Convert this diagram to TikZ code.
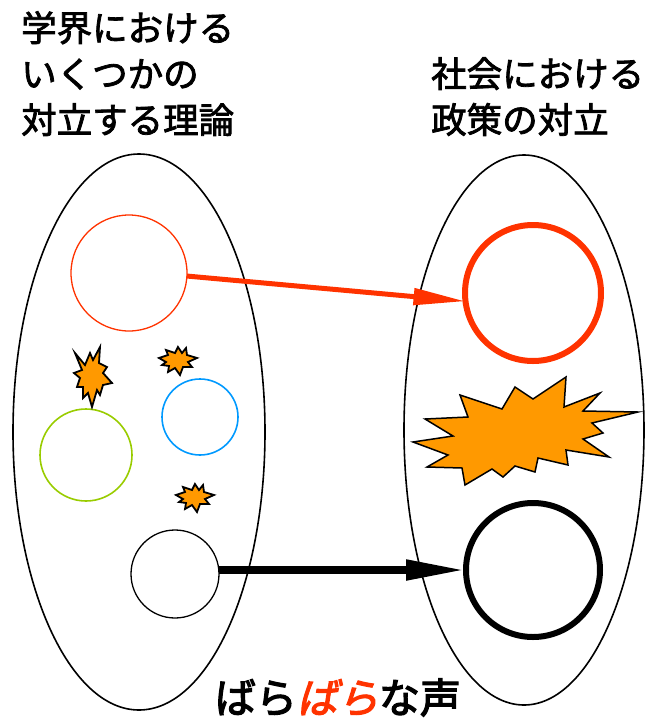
\documentclass[tikz,border=0pt]{standalone}
\usepackage{fontspec}
\usetikzlibrary{shapes.geometric,arrows.meta}
\newfontfamily\jpfont{Noto Sans CJK JP}[FakeBold=2.2]
\newfontfamily\jpbold{Noto Sans CJK JP}[FakeBold=3]
\newfontfamily\jpslant{Noto Sans CJK JP}[FakeBold=3,FakeSlant=0.2]
\definecolor{myred}{HTML}{FF3300}
\definecolor{myorange}{HTML}{FF9900}
\definecolor{myblue}{HTML}{0099FF}
\definecolor{mygreen}{HTML}{99CC00}
\tikzset{
  bigoval/.style={ellipse, draw=black, line width=1.6pt, inner sep=0pt},
  ring/.style={circle, inner sep=0pt, outer sep=0pt},
  burst/.style={fill=myorange, draw=black, line width=1.8pt, line join=miter},
  label/.style={inner sep=0pt, align=left, font=\jpfont\fontsize{35.5}{46}\selectfont},
}
\begin{document}
\begin{tikzpicture}[x=1pt,y=-1pt]
\useasboundingbox (0,0) rectangle (646,721);
% ellipses
\node[bigoval, minimum width=252pt, minimum height=556pt] (L) at (139,432) {};
\node[bigoval, minimum width=240pt, minimum height=550pt] (R) at (524,430) {};
% circles
\node[ring, draw=myred, line width=1.3pt, minimum size=116pt] (r1) at (129,273) {};
\node[ring, draw=myred, line width=6pt, minimum size=136pt] (r2) at (533,293) {};
\node[ring, draw=myblue, line width=1.6pt, minimum size=76pt] (bl) at (200,417) {};
\node[ring, draw=mygreen, line width=1.6pt, minimum size=92pt] (gr) at (86,455) {};
\node[ring, draw=black, line width=1.3pt, minimum size=88pt] (b1) at (175,574) {};
\node[ring, draw=black, line width=6pt, minimum size=134pt] (b2) at (533,570) {};
% arrows
\draw[myred, line width=5pt, -{Triangle[length=52pt,width=16pt]}] (r1.-3) -- (r2.187);
\draw[black, line width=8pt, -{Triangle[length=60pt,width=19pt]}] (b1.east |- b2.west) -- (b2.west);
% bursts
\draw[burst] (75,353) -- (85,365) -- (90,353) -- (93,360) -- (100,347) -- (99,363) -- (107,367) -- (103,373) -- (112,383) -- (103,385) -- (100,395) -- (97,390) -- (92,407) -- (88,393) -- (83,398) -- (83,387) -- (77,387) -- (80,378) -- (74,373) -- (82,370) -- cycle;
\draw[burst] (159,358) -- (168,355) -- (166,350) -- (175,353) -- (178,347) -- (182,353) -- (186,348) -- (187,355) -- (197,358) -- (188,362) -- (192,367) -- (183,367) -- (180,375) -- (175,368) -- (168,372) -- (169,366) -- (162,365) -- (166,362) -- cycle;
\draw[burst, shift={(17,137)}] (159,358) -- (168,355) -- (166,350) -- (175,353) -- (178,347) -- (182,353) -- (186,348) -- (187,355) -- (197,358) -- (188,362) -- (192,367) -- (183,367) -- (180,375) -- (175,368) -- (168,372) -- (169,366) -- (162,365) -- (166,362) -- cycle;
\draw[burst, line width=1.5pt] (413,442) -- (453,436) -- (425,419) -- (468,417) -- (460,395) -- (502,409) -- (515,387) -- (533,399) -- (566,377) -- (564,407) -- (600,393) -- (583,411) -- (638,412) -- (592,423) -- (603,433) -- (583,439) -- (609,457) -- (566,450) -- (568,465) -- (538,458) -- (535,472) -- (515,466) -- (503,477) -- (492,469) -- (465,485) -- (462,468) -- (427,467) -- (448,455) -- cycle;
% texts
\node[label, anchor=north west] (tl) at (21,11) {学界における\\いくつかの\\対立する理論};
\node[label, anchor=north west] (tr) at (431,57) {社会における\\政策の対立};
\node[inner sep=0pt, anchor=base, font=\fontsize{41}{48}\selectfont] (bt) at (338,713)
  {\jpbold ばら\textcolor{myred}{\jpslant ばら}な声};
\end{tikzpicture}
\end{document}
